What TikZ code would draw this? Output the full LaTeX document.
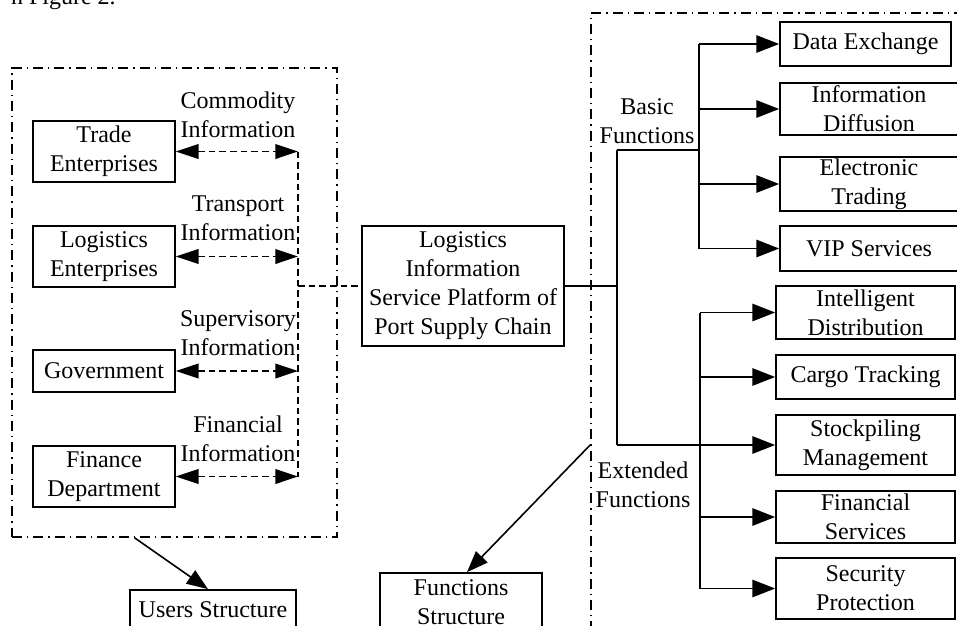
\documentclass[tikz,border=0pt]{standalone}
\usepackage{fontspec}
\setmainfont{Liberation Serif}
\usetikzlibrary{arrows.meta,calc}
\newcommand{\mybox}[7][fbox]{\node[#1, minimum width={(#5-#3)*0.75pt}, minimum height={(#6-#4)*0.75pt}] (#2) at ({(#3+#5)/2},{(#4+#6)/2}) {#7};}
\begin{document}
\begin{tikzpicture}[x=0.75pt,y=-0.75pt,
  font=\fontsize{18}{21.75}\selectfont,
  fbox/.style={draw, line width=1.3pt, inner sep=0pt, align=center},
  lbl/.style={align=center, inner sep=0pt},
  framebox/.style={draw, line width=1.3pt, inner sep=0pt, dash pattern=on 7.5pt off 3.75pt on 1pt off 3.75pt},
  dline/.style={line width=1.2pt, dash pattern=on 5pt off 3pt},
  sline/.style={line width=1.2pt},
  dblarrow/.style={{Triangle[length=17pt,width=11pt]}-{Triangle[length=17pt,width=11pt]}},
  brarrow/.style={-{Triangle[length=17pt,width=13pt]}},
  bigarrow/.style={-{Triangle[length=16pt,width=12pt]}}]
\useasboundingbox (0,0) rectangle (957,625);

\node[lbl, anchor=base east] (fig) at (116,4) {n Figure 2.};

% frames
\mybox[framebox]{uframe}{12}{68}{337}{537}{}
\mybox[framebox]{fframe}{591}{13}{1010}{700}{}

% users
\mybox{trade}{33}{121}{175}{182}{Trade\\Enterprises}
\mybox{logi}{33}{226}{175}{287}{Logistics\\Enterprises}
\mybox{gov}{33}{350}{175}{392}{Government}
\mybox{fin}{33}{446}{175}{507}{Finance\\Department}

\node[lbl] (l1) at (238,114.5) {Commodity\\Information};
\node[lbl] (l2) at (238,218.5) {Transport\\Information};
\node[lbl] (l3) at (238,333) {Supervisory\\Information};
\node[lbl] (l4) at (238,438.5) {Financial\\Information};

% platform
\mybox{plat}{362}{226}{564}{346}{Logistics\\Information\\Service Platform of\\Port Supply Chain}

% functions
\mybox{dex}{780}{22}{951}{66}{Data Exchange}
\mybox{idf}{780}{83}{958}{135}{Information\\Diffusion}
\mybox{etr}{780}{157}{958}{211}{Electronic\\Trading}
\mybox{vip}{780}{226}{958}{271}{VIP Services}

\mybox{ids}{776}{286}{955}{339}{Intelligent\\Distribution}
\mybox{cgt}{776}{355}{955}{399}{Cargo Tracking}
\mybox{stk}{776}{415}{955}{475}{Stockpiling\\Management}
\mybox{fsv}{776}{491}{955}{543}{Financial\\Services}
\mybox{sec}{776}{558}{955}{619}{Security\\Protection}

\node[lbl] (basic) at (647,121.5) {Basic\\Functions};
\node[lbl] (ext) at (643,485) {Extended\\Functions};

% structure boxes
\mybox{us}{130}{590}{296}{630}{Users Structure}
\mybox{fs}{380}{573}{542}{631}{Functions\\Structure}

% bus coordinates
\coordinate (bus) at (298,0);
\coordinate (trunk) at (617,0);
\coordinate (bb) at (699,0);
\coordinate (eb) at (700,0);

% left dashed connectors
\draw[dline, dblarrow] (trade.east) -- (trade.east -| bus);
\draw[dline, dblarrow] (logi.east) -- (logi.east -| bus);
\draw[dline, dblarrow] (gov.east) -- (gov.east -| bus);
\draw[dline, dblarrow] (fin.east) -- (fin.east -| bus);
\draw[dline] (trade.east -| bus) -- (fin.east -| bus);
\draw[dline] (plat.west -| bus) -- (plat.west);

% right tree
\coordinate (tb) at (617,150);
\coordinate (te) at (617,445);
\draw[sline] (plat.east) -- (plat.east -| trunk);
\draw[sline] (tb) -- (te);
\draw[sline] (tb) -- (tb -| bb);
\draw[sline] (bb |- dex.west) -- (bb |- vip.west);
\draw[sline, brarrow] (bb |- dex.west) -- (dex.west);
\draw[sline, brarrow] (bb |- idf.west) -- (idf.west);
\draw[sline, brarrow] (bb |- etr.west) -- (etr.west);
\draw[sline, brarrow] (bb |- vip.west) -- (vip.west);

\draw[sline] (eb |- ids.west) -- (eb |- sec.west);
\draw[sline, brarrow] (te) -- (stk.west);
\draw[sline, brarrow] (eb |- ids.west) -- (ids.west);
\draw[sline, brarrow] (eb |- cgt.west) -- (cgt.west);
\draw[sline, brarrow] (eb |- fsv.west) -- (fsv.west);
\draw[sline, brarrow] (eb |- sec.west) -- (sec.west);

% structure arrows
\draw[sline, bigarrow] ($(uframe.south west)!0.378!(uframe.south east)$) -- ($(us.north)+(-5,0)$);
\draw[sline, bigarrow] (fframe.west |- stk.west) -- ($(fs.north)+(6,0)$);
\end{tikzpicture}
\end{document}
